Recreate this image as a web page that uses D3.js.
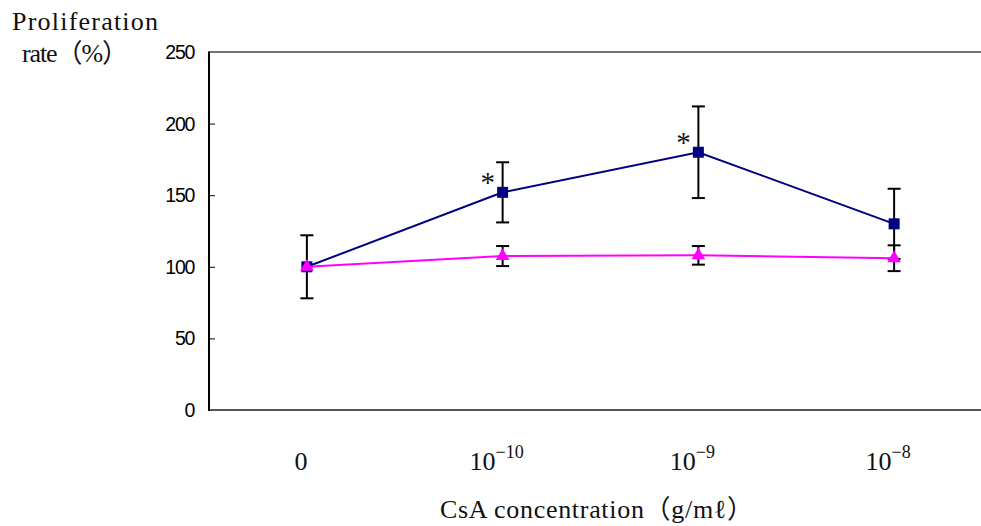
<!DOCTYPE html>
<html>
<head>
<meta charset="utf-8">
<script src="https://cdn.jsdelivr.net/npm/d3@7"></script>
<style>
  html, body { margin: 0; padding: 0; background: #fff; }
  svg { display: block; }
  .serif { font-family: "Liberation Serif", "Noto Sans CJK KR", serif; fill: #111; }
  .ytick { font-family: "Liberation Sans", Arial, sans-serif; font-size: 19.5px; letter-spacing: -1.3px; fill: #000; }
</style>
</head>
<body>
<svg width="981" height="526"></svg>
<script>
// Chart data
const categories = ["0", "1e-10", "1e-9", "1e-8"];
const tickBase = ["0", "10", "10", "10"];
const tickExp = ["", "-10", "-9", "-8"];
const yTicks = [0, 50, 100, 150, 200, 250];

const treatedMean = [100, 152, 180, 130];
const treatedErr = [22, 21, 32, 24.5];
const controlMean = [100, 107.5, 108, 106];
const controlErr = [0, 7, 6.5, 9];
const significant = [false, true, true, false];

const svg = d3.select("svg");

// Scales
const x = d3.scalePoint()
    .domain(categories)
    .range([209, 992])
    .padding(0.5);

const y = d3.scaleLinear()
    .domain([0, 250])
    .range([410, 52]);

// Frame: top border, left axis, bottom axis
svg.append("line")
    .attr("x1", 209).attr("x2", 981)
    .attr("y1", y(250)).attr("y2", y(250))
    .attr("stroke", "#444").attr("stroke-width", 1.5);

svg.append("line")
    .attr("x1", 209).attr("x2", 981)
    .attr("y1", y(0)).attr("y2", y(0))
    .attr("stroke", "#555").attr("stroke-width", 2);

const yAxis = svg.append("g")
    .attr("transform", "translate(209,0)")
    .call(d3.axisRight(y).tickValues(yTicks.slice(1, -1)).tickSize(6).tickFormat(""));
yAxis.select(".domain").remove();
yAxis.selectAll(".tick line").attr("stroke", "#000").attr("stroke-width", 1);

svg.append("line")
    .attr("x1", 209).attr("x2", 209)
    .attr("y1", y(250) - 0.5).attr("y2", y(0) + 1)
    .attr("stroke", "#000").attr("stroke-width", 2);

// Y tick labels
svg.append("g").selectAll("text")
    .data(yTicks)
    .join("text")
    .attr("class", "ytick")
    .attr("x", 194)
    .attr("y", d => y(d))
    .attr("dy", "0.36em")
    .attr("text-anchor", "end")
    .text(d => d);

// X tick labels with superscript exponents
const xLabels = svg.append("g").selectAll("text")
    .data(categories)
    .join("text")
    .attr("class", "serif")
    .attr("x", d => x(d) - 6)
    .attr("y", 470)
    .attr("text-anchor", "middle")
    .style("font-size", "26px");
xLabels.append("tspan").text((d, i) => tickBase[i]);
xLabels.append("tspan")
    .attr("dy", -12)
    .style("font-size", "18px")
    .text((d, i) => tickExp[i] ? tickExp[i].replace("-", "\u2212") : "");

// Axis titles
svg.append("text")
    .attr("class", "serif")
    .attr("x", 12).attr("y", 30)
    .attr("textLength", 146).attr("lengthAdjust", "spacing")
    .style("font-size", "26px")
    .text("Proliferation");

svg.append("text")
    .attr("class", "serif")
    .attr("x", 22).attr("y", 62)
    .attr("textLength", 106).attr("lengthAdjust", "spacing")
    .style("font-size", "26px")
    .text("rate\uFF08%\uFF09");

svg.append("text")
    .attr("class", "serif")
    .attr("x", 440).attr("y", 518)
    .attr("textLength", 313).attr("lengthAdjust", "spacing")
    .style("font-size", "26px")
    .text("CsA concentration\uFF08g/m\u2113\uFF09");

// Series drawing
const series = [
    { mean: treatedMean, err: treatedErr, color: "#000080", symbol: d3.symbolSquare, size: 121 },
    { mean: controlMean, err: controlErr, color: "#ff00ff", symbol: d3.symbolTriangle, size: 80 }
];

const errG = svg.append("g");
series.forEach(s => {
    const pts = categories.map((c, i) => ({ c, v: s.mean[i], e: s.err[i] })).filter(p => p.e > 0);
    const g = errG.selectAll(null).data(pts).join("g")
        .attr("stroke", "#000").attr("stroke-width", 2);
    g.append("line")
        .attr("x1", p => x(p.c)).attr("x2", p => x(p.c))
        .attr("y1", p => y(p.v + p.e)).attr("y2", p => y(p.v - p.e));
    g.append("line")
        .attr("x1", p => x(p.c) - 6.5).attr("x2", p => x(p.c) + 6.5)
        .attr("y1", p => y(p.v + p.e)).attr("y2", p => y(p.v + p.e));
    g.append("line")
        .attr("x1", p => x(p.c) - 6.5).attr("x2", p => x(p.c) + 6.5)
        .attr("y1", p => y(p.v - p.e)).attr("y2", p => y(p.v - p.e));
});

const line = d3.line()
    .x((d, i) => x(categories[i]))
    .y(d => y(d));

series.forEach(s => {
    svg.append("path")
        .datum(s.mean)
        .attr("fill", "none")
        .attr("stroke", s.color)
        .attr("stroke-width", 2)
        .attr("d", line);

    svg.append("g").selectAll("path")
        .data(s.mean)
        .join("path")
        .attr("transform", (d, i) => `translate(${x(categories[i])},${y(d)})`)
        .attr("d", d3.symbol(s.symbol, s.size))
        .attr("fill", s.color);
});

// Significance asterisks
svg.append("g").selectAll("text")
    .data(categories.filter((c, i) => significant[i]))
    .join("text")
    .attr("class", "serif")
    .attr("x", c => x(c) - 15)
    .attr("y", c => y(treatedMean[categories.indexOf(c)]) + 0)
    .attr("text-anchor", "middle")
    .style("font-size", "29px")
    .text("*");
</script>
</body>
</html>
